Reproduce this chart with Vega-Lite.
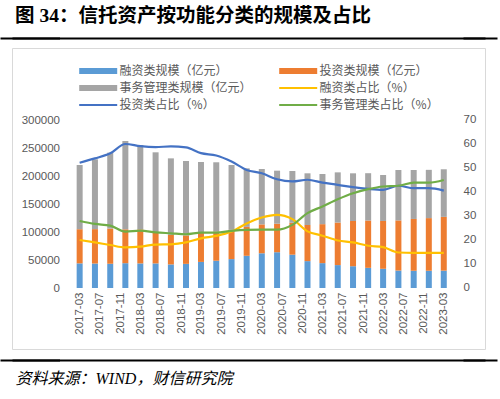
{
  "$schema": "https://vega.github.io/schema/vega-lite/v6.json",
  "width": 473,
  "height": 301,
  "autosize": {"type": "none"},
  "padding": {"left": 12, "top": 48, "right": 15, "bottom": 50},
  "background": "white",
  "config": {"view": {"stroke": "#D9D9D9", "strokeWidth": 1}, "font": "Noto Sans CJK SC"},
  "title": {
    "text": "图 34：信托资产按功能分类的规模及占比",
    "anchor": "start", "frame": "group", "dx": 3, "offset": -14, "baseline": "bottom",
    "font": "Liberation Serif, Noto Sans CJK SC", "fontSize": 19.5, "fontWeight": "bold", "color": "#000000"
  },
  "data": {"values": [
    {"date":"2017-03-01","series":"融资类规模（亿元）","value":44000},
    {"date":"2017-06-01","series":"融资类规模（亿元）","value":43700},
    {"date":"2017-09-01","series":"融资类规模（亿元）","value":43300},
    {"date":"2017-12-01","series":"融资类规模（亿元）","value":44300},
    {"date":"2018-03-01","series":"融资类规模（亿元）","value":43900},
    {"date":"2018-06-01","series":"融资类规模（亿元）","value":43900},
    {"date":"2018-09-01","series":"融资类规模（亿元）","value":42100},
    {"date":"2018-12-01","series":"融资类规模（亿元）","value":43100},
    {"date":"2019-03-01","series":"融资类规模（亿元）","value":46600},
    {"date":"2019-06-01","series":"融资类规模（亿元）","value":48700},
    {"date":"2019-09-01","series":"融资类规模（亿元）","value":51600},
    {"date":"2019-12-01","series":"融资类规模（亿元）","value":57500},
    {"date":"2020-03-01","series":"融资类规模（亿元）","value":62000},
    {"date":"2020-06-01","series":"融资类规模（亿元）","value":63900},
    {"date":"2020-09-01","series":"融资类规模（亿元）","value":59500},
    {"date":"2020-12-01","series":"融资类规模（亿元）","value":48000},
    {"date":"2021-03-01","series":"融资类规模（亿元）","value":44400},
    {"date":"2021-06-01","series":"融资类规模（亿元）","value":40900},
    {"date":"2021-09-01","series":"融资类规模（亿元）","value":38900},
    {"date":"2021-12-01","series":"融资类规模（亿元）","value":36000},
    {"date":"2022-03-01","series":"融资类规模（亿元）","value":34300},
    {"date":"2022-06-01","series":"融资类规模（亿元）","value":31200},
    {"date":"2022-09-01","series":"融资类规模（亿元）","value":30800},
    {"date":"2022-12-01","series":"融资类规模（亿元）","value":30800},
    {"date":"2023-03-01","series":"融资类规模（亿元）","value":31000},
    {"date":"2017-03-01","series":"投资类规模（亿元）","value":61000},
    {"date":"2017-06-01","series":"投资类规模（亿元）","value":61400},
    {"date":"2017-09-01","series":"投资类规模（亿元）","value":62800},
    {"date":"2017-12-01","series":"投资类规模（亿元）","value":60500},
    {"date":"2018-03-01","series":"投资类规模（亿元）","value":60800},
    {"date":"2018-06-01","series":"投资类规模（亿元）","value":56200},
    {"date":"2018-09-01","series":"投资类规模（亿元）","value":52800},
    {"date":"2018-12-01","series":"投资类规模（亿元）","value":50800},
    {"date":"2019-03-01","series":"投资类规模（亿元）","value":52000},
    {"date":"2019-06-01","series":"投资类规模（亿元）","value":51900},
    {"date":"2019-09-01","series":"投资类规模（亿元）","value":52300},
    {"date":"2019-12-01","series":"投资类规模（亿元）","value":51700},
    {"date":"2020-03-01","series":"投资类规模（亿元）","value":51600},
    {"date":"2020-06-01","series":"投资类规模（亿元）","value":50900},
    {"date":"2020-09-01","series":"投资类规模（亿元）","value":57000},
    {"date":"2020-12-01","series":"投资类规模（亿元）","value":64500},
    {"date":"2021-03-01","series":"投资类规模（亿元）","value":69600},
    {"date":"2021-06-01","series":"投资类规模（亿元）","value":76000},
    {"date":"2021-09-01","series":"投资类规模（亿元）","value":80700},
    {"date":"2021-12-01","series":"投资类规模（亿元）","value":84500},
    {"date":"2022-03-01","series":"投资类规模（亿元）","value":85400},
    {"date":"2022-06-01","series":"投资类规模（亿元）","value":89500},
    {"date":"2022-09-01","series":"投资类规模（亿元）","value":92500},
    {"date":"2022-12-01","series":"投资类规模（亿元）","value":94000},
    {"date":"2023-03-01","series":"投资类规模（亿元）","value":96000},
    {"date":"2017-03-01","series":"事务管理类规模（亿元）","value":114600},
    {"date":"2017-06-01","series":"事务管理类规模（亿元）","value":124700},
    {"date":"2017-09-01","series":"事务管理类规模（亿元）","value":135600},
    {"date":"2017-12-01","series":"事务管理类规模（亿元）","value":157700},
    {"date":"2018-03-01","series":"事务管理类规模（亿元）","value":150700},
    {"date":"2018-06-01","series":"事务管理类规模（亿元）","value":142200},
    {"date":"2018-09-01","series":"事务管理类规模（亿元）","value":136600},
    {"date":"2018-12-01","series":"事务管理类规模（亿元）","value":132900},
    {"date":"2019-03-01","series":"事务管理类规模（亿元）","value":126400},
    {"date":"2019-06-01","series":"事务管理类规模（亿元）","value":123900},
    {"date":"2019-09-01","series":"事务管理类规模（亿元）","value":115700},
    {"date":"2019-12-01","series":"事务管理类规模（亿元）","value":104500},
    {"date":"2020-03-01","series":"事务管理类规模（亿元）","value":98900},
    {"date":"2020-06-01","series":"事务管理类规模（亿元）","value":94700},
    {"date":"2020-09-01","series":"事务管理类规模（亿元）","value":92400},
    {"date":"2020-12-01","series":"事务管理类规模（亿元）","value":92300},
    {"date":"2021-03-01","series":"事务管理类规模（亿元）","value":89600},
    {"date":"2021-06-01","series":"事务管理类规模（亿元）","value":89600},
    {"date":"2021-09-01","series":"事务管理类规模（亿元）","value":85200},
    {"date":"2021-12-01","series":"事务管理类规模（亿元）","value":84500},
    {"date":"2022-03-01","series":"事务管理类规模（亿元）","value":82100},
    {"date":"2022-06-01","series":"事务管理类规模（亿元）","value":90000},
    {"date":"2022-09-01","series":"事务管理类规模（亿元）","value":87400},
    {"date":"2022-12-01","series":"事务管理类规模（亿元）","value":86200},
    {"date":"2023-03-01","series":"事务管理类规模（亿元）","value":85000},
    {"date":"2017-03-01","series":"融资类占比（%）","value":20.0},
    {"date":"2017-06-01","series":"融资类占比（%）","value":19.0},
    {"date":"2017-09-01","series":"融资类占比（%）","value":17.9},
    {"date":"2017-12-01","series":"融资类占比（%）","value":16.9},
    {"date":"2018-03-01","series":"融资类占比（%）","value":17.2},
    {"date":"2018-06-01","series":"融资类占比（%）","value":18.1},
    {"date":"2018-09-01","series":"融资类占比（%）","value":18.2},
    {"date":"2018-12-01","series":"融资类占比（%）","value":19.0},
    {"date":"2019-03-01","series":"融资类占比（%）","value":20.7},
    {"date":"2019-06-01","series":"融资类占比（%）","value":21.7},
    {"date":"2019-09-01","series":"融资类占比（%）","value":23.5},
    {"date":"2019-12-01","series":"融资类占比（%）","value":26.9},
    {"date":"2020-03-01","series":"融资类占比（%）","value":29.4},
    {"date":"2020-06-01","series":"融资类占比（%）","value":30.5},
    {"date":"2020-09-01","series":"融资类占比（%）","value":28.7},
    {"date":"2020-12-01","series":"融资类占比（%）","value":23.6},
    {"date":"2021-03-01","series":"融资类占比（%）","value":21.8},
    {"date":"2021-06-01","series":"融资类占比（%）","value":19.8},
    {"date":"2021-09-01","series":"融资类占比（%）","value":19.0},
    {"date":"2021-12-01","series":"融资类占比（%）","value":17.6},
    {"date":"2022-03-01","series":"融资类占比（%）","value":17.0},
    {"date":"2022-06-01","series":"融资类占比（%）","value":14.8},
    {"date":"2022-09-01","series":"融资类占比（%）","value":14.6},
    {"date":"2022-12-01","series":"融资类占比（%）","value":14.6},
    {"date":"2023-03-01","series":"融资类占比（%）","value":14.6},
    {"date":"2017-03-01","series":"投资类占比（%）","value":52.2},
    {"date":"2017-06-01","series":"投资类占比（%）","value":54.0},
    {"date":"2017-09-01","series":"投资类占比（%）","value":56.1},
    {"date":"2017-12-01","series":"投资类占比（%）","value":60.0},
    {"date":"2018-03-01","series":"投资类占比（%）","value":59.1},
    {"date":"2018-06-01","series":"投资类占比（%）","value":58.7},
    {"date":"2018-09-01","series":"投资类占比（%）","value":59.0},
    {"date":"2018-12-01","series":"投资类占比（%）","value":58.6},
    {"date":"2019-03-01","series":"投资类占比（%）","value":56.2},
    {"date":"2019-06-01","series":"投资类占比（%）","value":55.2},
    {"date":"2019-09-01","series":"投资类占比（%）","value":52.7},
    {"date":"2019-12-01","series":"投资类占比（%）","value":49.2},
    {"date":"2020-03-01","series":"投资类占比（%）","value":47.8},
    {"date":"2020-06-01","series":"投资类占比（%）","value":45.3},
    {"date":"2020-09-01","series":"投资类占比（%）","value":44.4},
    {"date":"2020-12-01","series":"投资类占比（%）","value":45.1},
    {"date":"2021-03-01","series":"投资类占比（%）","value":43.9},
    {"date":"2021-06-01","series":"投资类占比（%）","value":43.0},
    {"date":"2021-09-01","series":"投资类占比（%）","value":42.0},
    {"date":"2021-12-01","series":"投资类占比（%）","value":41.3},
    {"date":"2022-03-01","series":"投资类占比（%）","value":40.9},
    {"date":"2022-06-01","series":"投资类占比（%）","value":42.6},
    {"date":"2022-09-01","series":"投资类占比（%）","value":41.6},
    {"date":"2022-12-01","series":"投资类占比（%）","value":41.6},
    {"date":"2023-03-01","series":"投资类占比（%）","value":40.6},
    {"date":"2017-03-01","series":"事务管理类占比（%）","value":27.9},
    {"date":"2017-06-01","series":"事务管理类占比（%）","value":26.7},
    {"date":"2017-09-01","series":"事务管理类占比（%）","value":26.0},
    {"date":"2017-12-01","series":"事务管理类占比（%）","value":23.5},
    {"date":"2018-03-01","series":"事务管理类占比（%）","value":23.9},
    {"date":"2018-06-01","series":"事务管理类占比（%）","value":23.2},
    {"date":"2018-09-01","series":"事务管理类占比（%）","value":22.8},
    {"date":"2018-12-01","series":"事务管理类占比（%）","value":22.4},
    {"date":"2019-03-01","series":"事务管理类占比（%）","value":23.1},
    {"date":"2019-06-01","series":"事务管理类占比（%）","value":23.1},
    {"date":"2019-09-01","series":"事务管理类占比（%）","value":23.8},
    {"date":"2019-12-01","series":"事务管理类占比（%）","value":24.2},
    {"date":"2020-03-01","series":"事务管理类占比（%）","value":24.3},
    {"date":"2020-06-01","series":"事务管理类占比（%）","value":24.3},
    {"date":"2020-09-01","series":"事务管理类占比（%）","value":26.3},
    {"date":"2020-12-01","series":"事务管理类占比（%）","value":31.2},
    {"date":"2021-03-01","series":"事务管理类占比（%）","value":34.0},
    {"date":"2021-06-01","series":"事务管理类占比（%）","value":37.0},
    {"date":"2021-09-01","series":"事务管理类占比（%）","value":39.5},
    {"date":"2021-12-01","series":"事务管理类占比（%）","value":41.2},
    {"date":"2022-03-01","series":"事务管理类占比（%）","value":42.3},
    {"date":"2022-06-01","series":"事务管理类占比（%）","value":42.6},
    {"date":"2022-09-01","series":"事务管理类占比（%）","value":43.9},
    {"date":"2022-12-01","series":"事务管理类占比（%）","value":43.9},
    {"date":"2023-03-01","series":"事务管理类占比（%）","value":45.0}
  ]},
  "layer": [
    {
      "transform": [{"filter": "indexof(datum.series, '规模') >= 0"}],
      "mark": {"type": "bar", "width": 6},
      "encoding": {
        "x": {
          "field": "date", "type": "temporal",
          "scale": {"type": "utc", "domain": [{"year": 2016, "month": 2, "date": 18, "utc": true}, {"year": 2023, "month": 10, "date": 5, "utc": true}]},
          "axis": {
            "values": [
              {"year": 2017, "month": 3, "date": 1, "utc": true}, {"year": 2017, "month": 7, "date": 1, "utc": true}, {"year": 2017, "month": 11, "date": 1, "utc": true},
              {"year": 2018, "month": 3, "date": 1, "utc": true}, {"year": 2018, "month": 7, "date": 1, "utc": true}, {"year": 2018, "month": 11, "date": 1, "utc": true},
              {"year": 2019, "month": 3, "date": 1, "utc": true}, {"year": 2019, "month": 7, "date": 1, "utc": true}, {"year": 2019, "month": 11, "date": 1, "utc": true},
              {"year": 2020, "month": 3, "date": 1, "utc": true}, {"year": 2020, "month": 7, "date": 1, "utc": true}, {"year": 2020, "month": 11, "date": 1, "utc": true},
              {"year": 2021, "month": 3, "date": 1, "utc": true}, {"year": 2021, "month": 7, "date": 1, "utc": true}, {"year": 2021, "month": 11, "date": 1, "utc": true},
              {"year": 2022, "month": 3, "date": 1, "utc": true}, {"year": 2022, "month": 7, "date": 1, "utc": true}, {"year": 2022, "month": 11, "date": 1, "utc": true},
              {"year": 2023, "month": 3, "date": 1, "utc": true}
            ],
            "tickCount": 40,
            "format": "%Y-%m", "labelAngle": -90, "labelFont": "Liberation Sans", "labelFontSize": 11.5, "labelColor": "#595959",
            "labelOverlap": false, "labelFlush": false, "labelBound": false,
            "domain": false, "ticks": false, "tickSize": 0, "labelPadding": 4, "grid": false, "offset": -61,
            "title": "资料来源：WIND，财信研究院", "titleX": 3, "titleY": 90, "titleAlign": "left", "titleAnchor": "start",
            "titleBaseline": "middle", "titleAngle": 0, "titleFont": "Liberation Serif, Noto Sans CJK SC", "titleFontStyle": "italic",
            "titleFontWeight": "normal", "titleFontSize": 16, "titleColor": "#000000"
          }
        },
        "y": {
          "field": "value", "type": "quantitative", "stack": "zero",
          "scale": {"domain": [-130357.14, 448214.29], "range": [313, -11], "nice": false, "zero": false},
          "axis": {
            "orient": "left", "title": null, "domain": false, "grid": false,
            "values": [-128571.43, 0, 50000, 100000, 150000, 200000, 250000, 300000, 446428.57],
            "tickCount": 40,
            "offset": -47.5, "ticks": true, "tickSize": 59.5, "tickWidth": 2,
            "tickColor": {"condition": {"test": "datum.value < 0 || datum.value > 300000", "value": "#000000"}, "value": "transparent"},
            "labelPadding": -59.5,
            "labelExpr": "datum.value < 0 || datum.value > 300000 ? '' : format(datum.value, 'd')",
            "labelFont": "Liberation Sans", "labelFontSize": 11.5, "labelColor": "#595959", "labelOverlap": false, "labelBound": false, "labelFlush": false
          }
        },
        "color": {
          "field": "series", "type": "nominal",
          "scale": {
            "domain": ["融资类规模（亿元）", "投资类规模（亿元）", "事务管理类规模（亿元）", "融资类占比（%）", "投资类占比（%）", "事务管理类占比（%）"],
            "range": ["#5B9BD5", "#ED7D31", "#A5A5A5", "#FFC000", "#4472C4", "#70AD47"]
          },
          "legend": {
            "orient": "none", "legendX": 65, "legendY": 17, "direction": "horizontal", "columns": 2, "columnPadding": 25, "rowPadding": 5,
            "title": null, "padding": 0, "symbolSize": 57.76, "symbolOffset": 15.2, "labelOffset": 15.4, "clipHeight": 12,
            "symbolStrokeWidth": 0, "labelFont": "Noto Sans CJK SC", "labelFontSize": 12, "labelColor": "#595959", "labelLimit": 300,
            "encode": {
              "symbols": {
                "update": {
                  "shape": {"signal": "indexof(datum.label, '占比') >= 0 ? 'M-5,-0.27H5V0.27H-5Z' : 'M-5,-0.8H5V0.8H-5Z'"},
                  "fill": {"scale": "color", "field": "value"},
                  "stroke": {"value": "transparent"},
                  "strokeWidth": {"value": 0},
                  "opacity": {"value": 1}
                }
              }
            }
          }
        },
        "order": {"field": "series", "sort": "descending"}
      }
    },
    {
      "transform": [{"filter": "indexof(datum.series, '占比') >= 0"}],
      "mark": {"type": "line", "strokeWidth": 2.2, "interpolate": "monotone"},
      "encoding": {
        "x": {"field": "date", "type": "temporal"},
        "y": {
          "field": "value", "type": "quantitative",
          "scale": {"domain": [-30.4167, 104.5833], "range": [313, -11], "nice": false, "zero": false},
          "axis": {
            "orient": "right", "title": null, "domain": false,
            "values": [-30, 0, 10, 20, 30, 40, 50, 60, 70, 104.1667],
            "tickCount": 40,
            "offset": -22, "grid": true, "gridWidth": 2,
            "gridColor": {"condition": {"test": "datum.value < 0 || datum.value > 70", "value": "#000000"}, "value": "transparent"},
            "ticks": true, "tickSize": 34, "tickWidth": 2,
            "tickColor": {"condition": {"test": "datum.value < 0 || datum.value > 70", "value": "#000000"}, "value": "transparent"},
            "labelPadding": -34,
            "labelExpr": "datum.value < 0 || datum.value > 70 ? '' : datum.label",
            "labelFont": "Liberation Sans", "labelFontSize": 11.5, "labelColor": "#595959", "labelOverlap": false, "labelBound": false, "labelFlush": false
          }
        },
        "color": {"field": "series", "type": "nominal"}
      }
    }
  ],
  "resolve": {"scale": {"y": "independent"}}
}
